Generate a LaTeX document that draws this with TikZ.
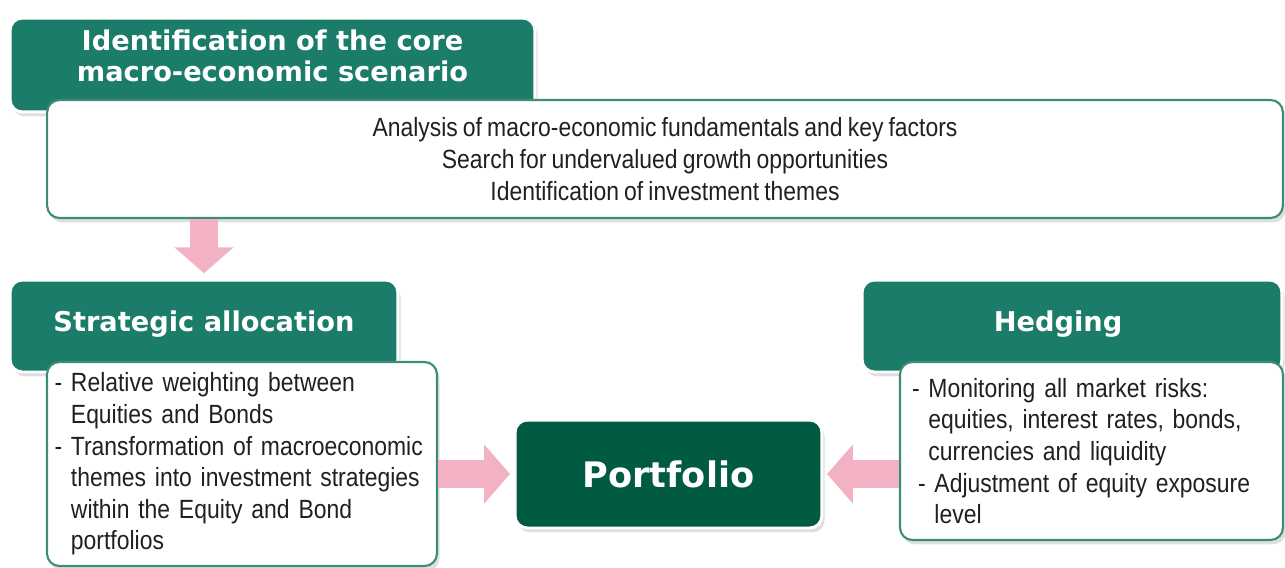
\documentclass[tikz,border=0pt]{standalone}
\usepackage{fontspec}
\usetikzlibrary{arrows.meta,shadows}
\newfontfamily\headfont{DejaVu Sans}
\newfontfamily\bodyfont[FakeStretch=0.87,WordSpace=0.8]{Liberation Sans}
\definecolor{hdrgreen}{RGB}{28,124,106}
\definecolor{portgreen}{RGB}{0,91,66}
\definecolor{edgegreen}{RGB}{60,140,120}
\definecolor{arrowpink}{RGB}{242,178,196}
\definecolor{bodytext}{RGB}{35,31,32}
\newcommand{\hang}{\phantom{-~}}
\hyphenpenalty=10000

\begin{document}
\begin{tikzpicture}[x=0.02cm,y=-0.02cm]
\tikzstyle{header}=[fill=hdrgreen,draw=white,line width=1.7pt,rounded corners=7pt,
  drop shadow={shadow xshift=1.5pt,shadow yshift=-2.5pt,opacity=0.25},
  text=white,inner sep=0pt,font=\headfont\bfseries\fontsize{15.5}{18}\selectfont]
\tikzstyle{bodybox}=[fill=white,draw=edgegreen,line width=1.2pt,rounded corners=7pt,
  drop shadow={shadow xshift=1.5pt,shadow yshift=-2.5pt,opacity=0.25},
  text=bodytext,inner ysep=0pt,font=\bodyfont\fontsize{15}{18}\selectfont]
\tikzstyle{blockarrow}=[draw=arrowpink,line width=0.56cm,-{Triangle[width=1.16cm,length=0.52cm]}]
\useasboundingbox (0,0) rectangle (1285,568);

\node[header,align=center,minimum width=10.5cm,text height=1.28cm,text depth=0.6cm] (scenario) at (272.5,65)
  {Identification of the core\\macro-economic scenario};
\node[bodybox,align=center,minimum width=24.72cm,minimum height=2.36cm] (analysis) at (665,159)
  {Analysis of macro-economic fundamentals and key factors\\
   Search for undervalued growth opportunities\\
   Identification of investment themes};

\node[header,minimum width=7.76cm,text height=1.02cm,text depth=0.82cm] (strat) at (204,326)
  {Strategic allocation};
\node[bodybox,align=left,inner xsep=0.15cm,text width=7.5cm,minimum height=4.08cm] (stratbody) at (242,464)
  {- Relative weighting between\\
   \hang Equities and Bonds\\
   - Transformation of macroeconomic\\
   \hang themes into investment strategies\\
   \hang within the Equity and Bond\\
   \hang portfolios};

\node[header,minimum width=8.4cm,text height=1.02cm,text depth=0.82cm] (hedge) at (1072,326)
  {Hedging\kern0.56cm};
\node[bodybox,align=left,inner xsep=0.24cm,text width=7.18cm,minimum height=3.56cm] (hedgebody) at (1091.5,451)
  {- Monitoring all market risks:\\
   \hang equities, interest rates, bonds,\\
   \hang currencies and liquidity\\
   \hspace{0.12cm}- Adjustment of equity exposure\\
   \hspace{0.12cm}\hang level};

\node[header,fill=portgreen,minimum width=6.14cm,minimum height=2.16cm,
  font=\headfont\bfseries\fontsize{20}{24}\selectfont] (portfolio) at (668.5,474) {Portfolio};

\draw[blockarrow] (analysis.south -| strat.north) -- ([yshift=3pt]strat.north);
\draw[blockarrow] (stratbody.east |- portfolio.west) -- ([xshift=-2pt]portfolio.west);
\draw[blockarrow] (hedgebody.west |- portfolio.east) -- ([xshift=2pt]portfolio.east);
\end{tikzpicture}
\end{document}
